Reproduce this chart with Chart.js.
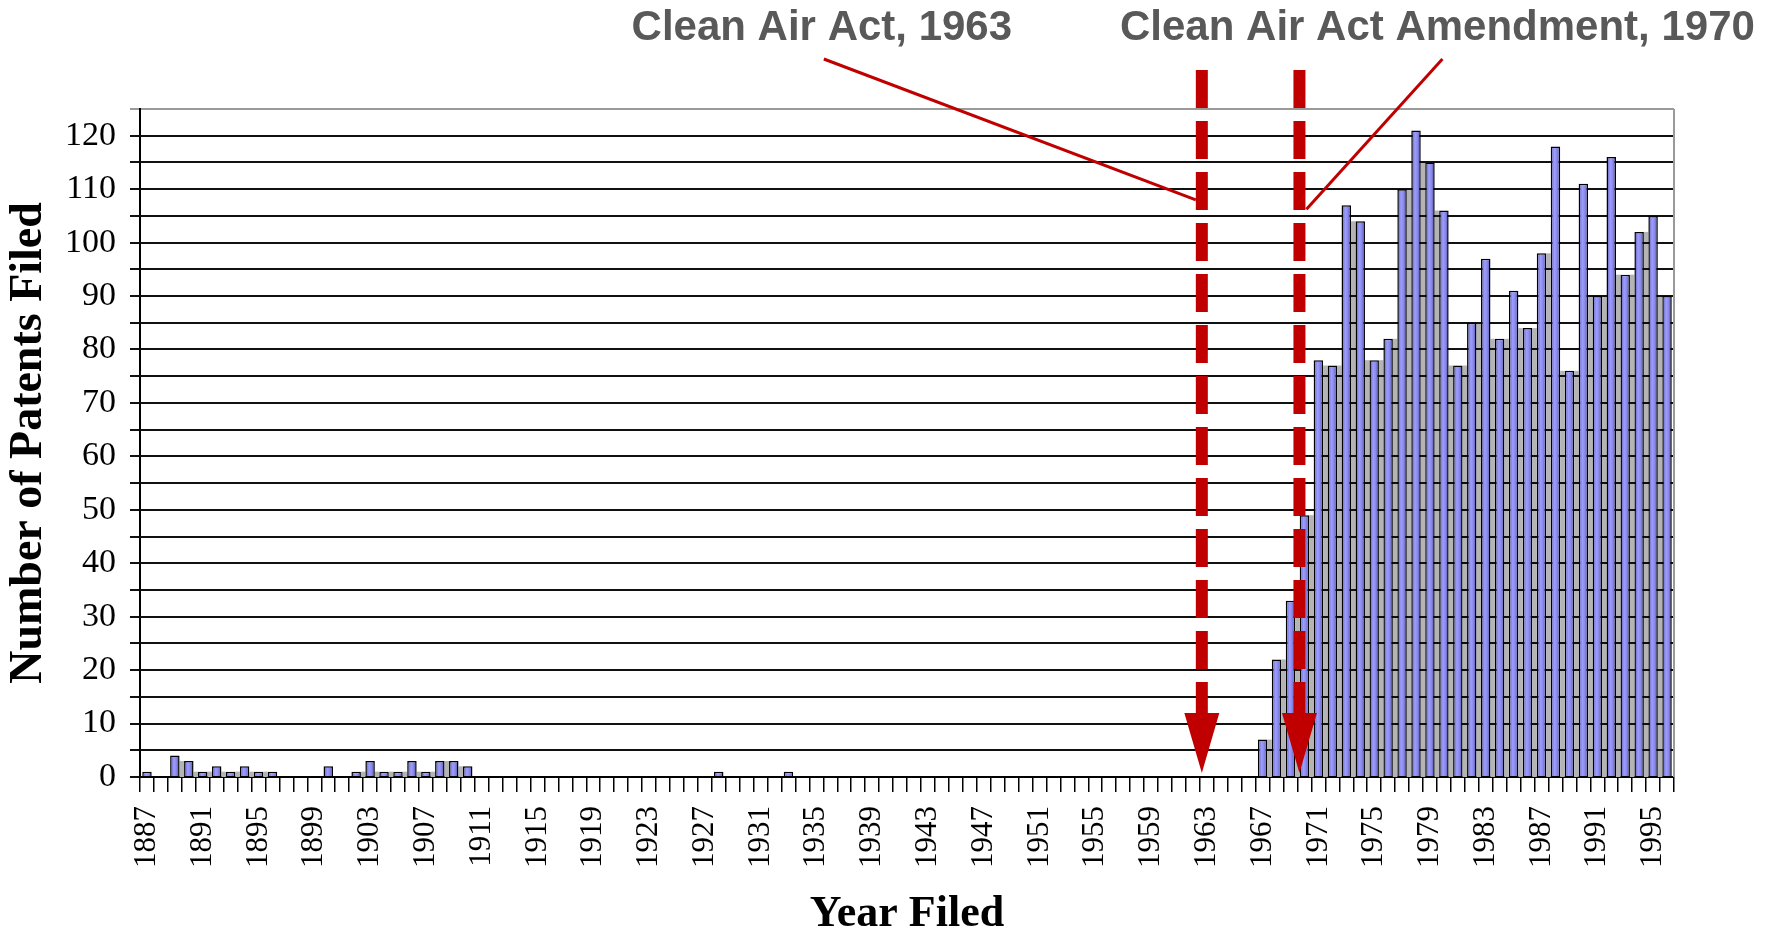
<!DOCTYPE html>
<html>
<head>
<meta charset="utf-8">
<script src="https://cdn.jsdelivr.net/npm/chart.js@4/dist/chart.umd.min.js"></script>
<style>
  body { margin: 0; background: #fff; }
  #wrap { width: 1775px; height: 941px; }
</style>
</head>
<body>
<div id="wrap"><canvas id="myChart" width="1775" height="941"></canvas></div>
<script>
//Years on the x axis
const anos = [
  "1887", "1888", "1889", "1890", "1891", "1892", "1893", "1894", "1895", "1896",
  "1897", "1898", "1899", "1900", "1901", "1902", "1903", "1904", "1905", "1906",
  "1907", "1908", "1909", "1910", "1911", "1912", "1913", "1914", "1915", "1916",
  "1917", "1918", "1919", "1920", "1921", "1922", "1923", "1924", "1925", "1926",
  "1927", "1928", "1929", "1930", "1931", "1932", "1933", "1934", "1935", "1936",
  "1937", "1938", "1939", "1940", "1941", "1942", "1943", "1944", "1945", "1946",
  "1947", "1948", "1949", "1950", "1951", "1952", "1953", "1954", "1955", "1956",
  "1957", "1958", "1959", "1960", "1961", "1962", "1963", "1964", "1965", "1966",
  "1967", "1968", "1969", "1970", "1971", "1972", "1973", "1974", "1975", "1976",
  "1977", "1978", "1979", "1980", "1981", "1982", "1983", "1984", "1985", "1986",
  "1987", "1988", "1989", "1990", "1991", "1992", "1993", "1994", "1995", "1996",
];
//Patents filed per year
const patentes = [
  1, 0, 4, 3, 1, 2, 1, 2, 1, 1,
  0, 0, 0, 2, 0, 1, 3, 1, 1, 3,
  1, 3, 3, 2, 0, 0, 0, 0, 0, 0,
  0, 0, 0, 0, 0, 0, 0, 0, 0, 0,
  0, 1, 0, 0, 0, 0, 1, 0, 0, 0,
  0, 0, 0, 0, 0, 0, 0, 0, 0, 0,
  0, 0, 0, 0, 0, 0, 0, 0, 0, 0,
  0, 0, 0, 0, 0, 0, 0, 0, 0, 0,
  7, 22, 33, 49, 78, 77, 107, 104, 78, 82,
  110, 121, 115, 106, 77, 85, 97, 82, 91, 84,
  98, 118, 76, 111, 90, 116, 94, 102, 105, 90,
];
//Y axis ticks
const yMax = 125;
const yStep = 5;
//Events marked with arrows
const eventos = [
  { ano: "1963", texto: "Clean Air Act, 1963", valorLinha: 108 },
  { ano: "1970", texto: "Clean Air Act Amendment, 1970", valorLinha: 107 },
];

const vermelho = "#c00000";
const serif = "'Liberation Serif', 'Times New Roman', serif";
const larguraBarra = 0.68;

//Bar fill with a soft cylinder shading
const corBarra = (ctx) => {
  const xs = ctx.chart.scales.x;
  if (!xs || ctx.dataIndex === undefined) return "#8c8cf0";
  const cx = xs.getPixelForValue(ctx.dataIndex);
  const w = (xs.width / anos.length) * larguraBarra;
  if (!isFinite(cx) || !isFinite(w) || w <= 0) return "#8c8cf0";
  const g = ctx.chart.ctx.createLinearGradient(cx - w / 2, 0, cx + w / 2, 0);
  g.addColorStop(0, "#5c5cae");
  g.addColorStop(0.4, "#9d9dff");
  g.addColorStop(0.65, "#8a8aee");
  g.addColorStop(1, "#4e4e98");
  return g;
};

//Grey depth between neighbouring bars, grid redrawn on top
const sombra = {
  id: "sombra",
  beforeDatasetsDraw(chart) {
    const { ctx, chartArea, scales } = chart;
    const bars = chart.getDatasetMeta(0).data;
    const base = scales.y.getPixelForValue(0);
    ctx.save();
    ctx.fillStyle = "#b4b4b4";
    for (let i = 0; i < bars.length - 1; i++) {
      const a = patentes[i], b = patentes[i + 1];
      if (a > 0 && b > 0) {
        const x1 = bars[i].x + bars[i].width / 2;
        const x2 = bars[i + 1].x - bars[i + 1].width / 2;
        const top = scales.y.getPixelForValue(Math.min(a, b));
        ctx.fillRect(x1, top, x2 - x1, base - top);
      }
    }
    ctx.strokeStyle = "#111";
    ctx.lineWidth = 2;
    scales.y.ticks.forEach((t) => {
      if (t.value >= yMax || t.value === 0) return;
      const y = Math.round(scales.y.getPixelForValue(t.value));
      ctx.beginPath();
      ctx.moveTo(chartArea.left, y);
      ctx.lineTo(chartArea.right, y);
      ctx.stroke();
    });
    //right border
    ctx.strokeStyle = "#9a9a9a";
    ctx.beginPath();
    ctx.moveTo(chartArea.right, chartArea.top);
    ctx.lineTo(chartArea.right, base);
    ctx.stroke();
    ctx.restore();
  },
};

//Dashed arrows and the labels above the chart
const anotacoes = {
  id: "anotacoes",
  afterDatasetsDraw(chart) {
    const { ctx, chartArea, scales } = chart;
    const base = scales.y.getPixelForValue(0);
    ctx.save();
    eventos.forEach((ev, k) => {
      const x = scales.x.getPixelForValue(anos.indexOf(ev.ano)) - 5;
      const topo = chartArea.top - 39;
      const cabeca = base - 64;
      //dashed shaft
      ctx.strokeStyle = vermelho;
      ctx.lineWidth = 12;
      ctx.setLineDash([38, 13]);
      ctx.beginPath();
      ctx.moveTo(x, topo);
      ctx.lineTo(x, cabeca);
      ctx.stroke();
      ctx.setLineDash([]);
      //head
      ctx.fillStyle = vermelho;
      ctx.beginPath();
      ctx.moveTo(x - 17.5, cabeca);
      ctx.lineTo(x + 17.5, cabeca);
      ctx.lineTo(x, base - 4);
      ctx.closePath();
      ctx.fill();
      //label and connector
      const tx = k === 0 ? x - 380 : x + 138;
      ctx.font = "bold 42px 'Liberation Sans', Arial, sans-serif";
      ctx.fillStyle = "#595959";
      ctx.textAlign = "center";
      ctx.textBaseline = "alphabetic";
      ctx.fillText(ev.texto, tx, 40);
      const yl = scales.y.getPixelForValue(ev.valorLinha);
      ctx.strokeStyle = vermelho;
      ctx.lineWidth = 3;
      ctx.beginPath();
      if (k === 0) {
        ctx.moveTo(tx + 2, 59);
        ctx.lineTo(x - 6, yl);
      } else {
        ctx.moveTo(tx + 5, 59);
        ctx.lineTo(x + 7, yl + 4);
      }
      ctx.stroke();
    });
    ctx.restore();
  },
};

const grafico = () => {
  const ctx = document.getElementById("myChart").getContext("2d");
  return new Chart(ctx, {
    type: "bar",
    data: {
      labels: anos,
      datasets: [
        {
          label: "Number of Patents Filed",
          data: patentes,
          backgroundColor: corBarra,
          borderColor: "#000",
          borderWidth: 1.5,
          barPercentage: larguraBarra,
          categoryPercentage: 1,
        },
      ],
    },
    options: {
      responsive: false,
      animation: false,
      devicePixelRatio: 1,
      layout: { padding: { top: 109, right: 101, left: 0, bottom: 0 } },
      plugins: {
        legend: { display: false },
        tooltip: { enabled: false },
      },
      scales: {
        x: {
          afterFit: (s) => { s.height = 164; },
          grid: {
            offset: true,
            drawOnChartArea: false,
            color: "#000",
            lineWidth: 1.5,
            tickLength: 15,
          },
          border: { color: "#000", width: 2 },
          ticks: {
            autoSkip: false,
            maxRotation: 90,
            minRotation: 90,
            padding: 14,
            color: "#000",
            font: { family: serif, size: 31 },
            callback: (v, i) => (i % 4 === 0 ? anos[i] : ""),
          },
          title: {
            display: true,
            text: "Year Filed",
            color: "#000",
            font: { family: serif, size: 44, weight: "bold" },
            padding: { top: 0, bottom: 0 },
          },
        },
        y: {
          min: 0,
          max: yMax,
          afterFit: (s) => { s.width = 140; },
          grid: {
            color: (c) => (c.tick && c.tick.value === yMax ? "#9a9a9a" : "#111"),
            lineWidth: 2,
            tickLength: 10,
          },
          border: { color: "#000", width: 2 },
          ticks: {
            stepSize: yStep,
            autoSkip: false,
            padding: 14,
            color: "#000",
            font: { family: serif, size: 34 },
            callback: (v) => (v % 10 === 0 ? v : ""),
          },
          title: {
            display: true,
            text: "Number of Patents Filed",
            color: "#000",
            font: { family: serif, size: 46, weight: "bold" },
            padding: { top: 2, bottom: 0 },
          },
        },
      },
    },
    plugins: [sombra, anotacoes],
  });
};
grafico();
</script>
</body>
</html>
